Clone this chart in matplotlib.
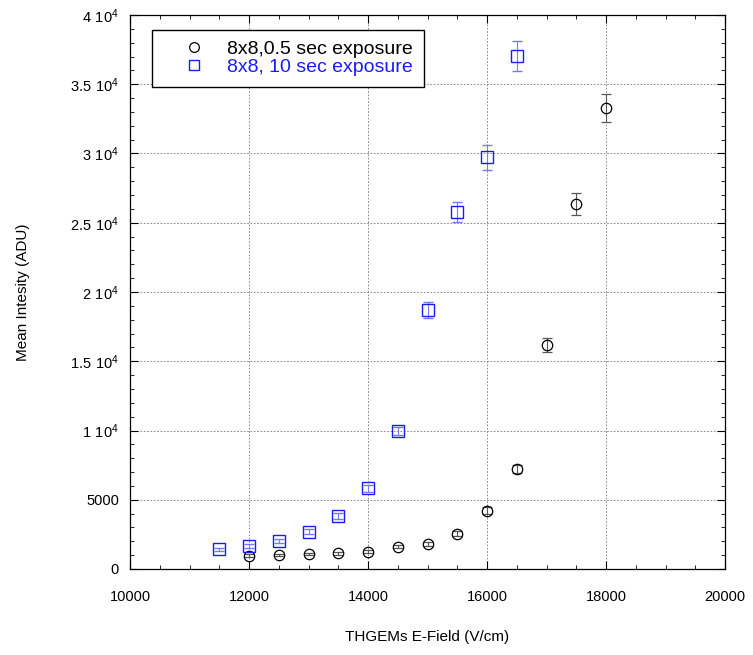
import matplotlib
matplotlib.use("Agg")
import matplotlib.pyplot as plt
from matplotlib.lines import Line2D
from matplotlib.ticker import MultipleLocator, FuncFormatter

plt.rcParams['font.family'] = ['Liberation Sans', 'DejaVu Sans']
plt.rcParams['mathtext.fontset'] = 'custom'
plt.rcParams['mathtext.rm'] = 'Liberation Sans'

# Data
x_short = [12000, 12500, 13000, 13500, 14000, 14500, 15000, 15500, 16000, 16500, 17000, 17500, 18000]
y_short = [960, 1010, 1080, 1130, 1250, 1610, 1800, 2550, 4210, 7220, 16170, 26380, 33300]
e_short = [100, 100, 100, 100, 120, 120, 150, 180, 250, 300, 500, 800, 1000]

x_long = [11500, 12000, 12500, 13000, 13500, 14000, 14500, 15000, 15500, 16000, 16500]
y_long = [1420, 1660, 2020, 2700, 3830, 5820, 9960, 18700, 25780, 29730, 37040]
e_long = [120, 150, 150, 180, 200, 250, 300, 550, 750, 900, 1100]

label_short = "8x8,0.5 sec exposure"
label_long = "8x8, 10 sec exposure"

blue = '#1a1aff'

fig = plt.figure(figsize=(7.53, 6.55), dpi=100)
ax = fig.add_axes([130/753, 1-569/655, (725-130)/753, (569-15)/655])

ax.errorbar(x_short, y_short, yerr=e_short, fmt='o', mfc='none', mec='black', ms=7.5, mew=0.9,
            ecolor='#555555', elinewidth=0.8, capsize=3.5, capthick=0.8, zorder=3)
ax.errorbar(x_long, y_long, yerr=e_long, fmt='s', mfc='none', mec=blue, ms=8, mew=1.0,
            ecolor='#7777ff', elinewidth=0.8, capsize=3.5, capthick=0.8, zorder=3)

ax.set_xlim(10000, 20000)
ax.set_ylim(0, 40000)
ax.xaxis.set_major_locator(MultipleLocator(2000))
ax.xaxis.set_minor_locator(MultipleLocator(500))
ax.yaxis.set_major_locator(MultipleLocator(5000))
ax.yaxis.set_minor_locator(MultipleLocator(1000))

def yfmt(v, pos):
    if v == 0:
        return '0'
    if v < 10000:
        return '%d' % v
    m = v / 10000.0
    s = ('%g' % m)
    return r'$\mathregular{%s\ 10^{4}}$' % s
ax.yaxis.set_major_formatter(FuncFormatter(yfmt))

ax.tick_params(which='both', direction='in', top=True, right=True, labelsize=10.5)
ax.tick_params(which='major', length=6, width=0.8)
ax.tick_params(which='minor', length=3, width=0.6)
ax.tick_params(axis='x', pad=15)
ax.tick_params(axis='y', pad=8)
ax.grid(True, which='major', linestyle=(0, (2, 2)), color='#777777', linewidth=0.6)
for sp in ax.spines.values():
    sp.set_linewidth(0.9)

ax.set_xlabel("THGEMs E-Field (V/cm)", fontsize=11, labelpad=19)
ax.set_ylabel("Mean Intesity (ADU)", fontsize=11, labelpad=29)

handles = [Line2D([], [], linestyle='none', marker='o', mfc='none', mec='black', ms=7, mew=0.9),
           Line2D([], [], linestyle='none', marker='s', mfc='none', mec=blue, ms=7, mew=1.0)]
leg = ax.legend(handles, [label_short, label_long], loc='upper left',
                bbox_to_anchor=(22/595, 1-15/554), fontsize=14,
                frameon=True, fancybox=False, edgecolor='black', framealpha=1,
                handletextpad=0.12, borderpad=0.55, labelspacing=0.0, handlelength=3.2,
                borderaxespad=0)
leg.get_frame().set_linewidth(1.0)
for txt, c in zip(leg.get_texts(), ['black', blue]):
    txt.set_color(c)

fig.savefig("out.png", dpi=100)
